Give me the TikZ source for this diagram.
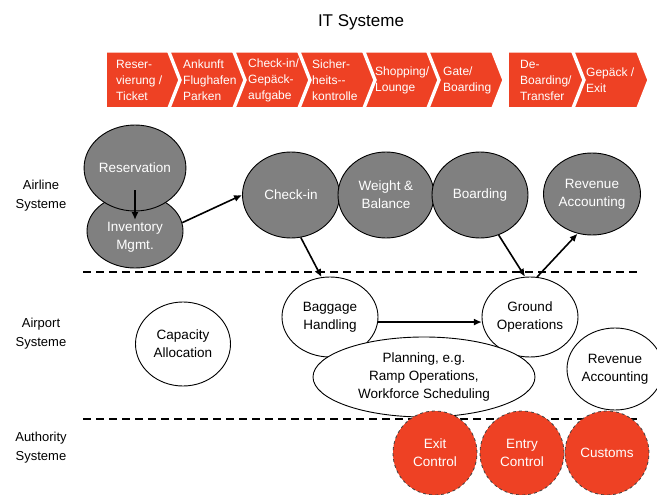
\documentclass[tikz,border=0pt]{standalone}
\usepackage{fontspec}
\setmainfont{Liberation Sans}
\usetikzlibrary{shapes.geometric,arrows.meta,calc}
\definecolor{chevred}{HTML}{EE4124}
\definecolor{ellgray}{HTML}{808080}
\begin{document}
\begin{tikzpicture}[x=1pt,y=-1pt,
  chev/.style={fill=chevred, draw=white, line width=1.5pt, line join=miter},
  chevtext/.style={anchor=west, align=left, text=white, font=\fontsize{12}{16}\selectfont, inner sep=0pt},
  sysnode/.style={ellipse, draw=black, line width=0.9pt, inner sep=0pt, align=center, font=\fontsize{13.5}{18}\selectfont},
  grayell/.style={sysnode, fill=ellgray, text=white},
  whiteell/.style={sysnode, fill=white},
  authcirc/.style={circle, fill=chevred, draw=black!75, dashed, line width=0.8pt, minimum size=84pt, inner sep=0pt, align=center, text=white, font=\fontsize{13.5}{18}\selectfont},
  flow/.style={-{Latex[length=8pt,width=7pt]}, line width=1.6pt},
  sepline/.style={dash pattern=on 8pt off 5pt, line width=1.8pt},
  rowlabel/.style={align=center, font=\fontsize{13}{19}\selectfont}
]
\useasboundingbox (0,0) rectangle (657,495);
\clip (0,0) rectangle (657,495);

% title
\node[font=\fontsize{17}{20}\selectfont] (title) at (361,22) {IT Systeme};

% chevrons
\path[chev] (106,52) -- (168,52) -- (179,80) -- (168,108) -- (106,108) -- cycle;
\path[chev] (170,52) -- (233,52) -- (244,80) -- (233,108) -- (170,108) -- (181,80) -- cycle;
\path[chev] (235,52) -- (298,52) -- (309,80) -- (298,108) -- (235,108) -- (246,80) -- cycle;
\path[chev] (300,52) -- (363,52) -- (374,80) -- (363,108) -- (300,108) -- (311,80) -- cycle;
\path[chev] (365,52) -- (427,52) -- (438,80) -- (427,108) -- (365,108) -- (376,80) -- cycle;
\path[chev] (429,52) -- (492,52) -- (503,80) -- (492,108) -- (429,108) -- (440,80) -- cycle;
\path[chev] (508,52) -- (572,52) -- (583,80) -- (572,108) -- (508,108) -- cycle;
\path[chev] (574,52) -- (637,52) -- (648,80) -- (637,108) -- (574,108) -- (585,80) -- cycle;

\node[chevtext] (c1) at (116,80) {Reser-\\vierung /\\Ticket};
\node[chevtext] (c2) at (183,80) {Ankunft\\Flughafen\\Parken};
\node[chevtext] (c3) at (248,80) {Check-in/\\Gepäck-\\aufgabe};
\node[chevtext] (c4) at (312,80) {Sicher-\\heits-{}-\\kontrolle};
\node[chevtext] (c5) at (375,80) {Shopping/\\Lounge};
\node[chevtext] (c6) at (443,80) {Gate/\\Boarding};
\node[chevtext] (c7) at (520,80) {De-\\Boarding/\\Transfer};
\node[chevtext] (c8) at (586,80) {Gepäck /\\Exit};

% row labels
\node[rowlabel] (lairline) at (41,196) {Airline\\Systeme};
\node[rowlabel] (lairport) at (41,334) {Airport\\Systeme};
\node[rowlabel] (lauth) at (41,448) {Authority\\Systeme};

% separators
\coordinate (s1a) at (83,272);
\coordinate (s1b) at (640,272);
\coordinate (s2a) at (83,419);
\coordinate (s2b) at (640,419);
\draw[sepline] (s1a) -- (s1b);
\draw[sepline] (s2a) -- (s2b);

% airline systems
\node[grayell, minimum width=96pt, minimum height=74pt] (inv) at (135,231) {};
\node[grayell, minimum width=96pt, minimum height=86pt] (res) at (135,168) {Reservation};
\node[align=center, text=white, inner sep=0pt, font=\fontsize{13.5}{18}\selectfont] (invtext) at (135,237) {Inventory\\Mgmt.};
\node[grayell, minimum width=97pt, minimum height=86pt] (checkin) at (291,195) {Check-in};
\node[grayell, minimum width=96pt, minimum height=86pt] (wb) at (386,195) {Weight \&\\Balance};
\node[grayell, minimum width=96pt, minimum height=86pt] (board) at (480,195) {Boarding};
\node[grayell, minimum width=97pt, minimum height=82pt] (revA) at (592,194) {Revenue\\Accounting};

% airport systems
\node[whiteell, minimum width=95pt, minimum height=84pt] (cap) at (183,344) {Capacity\\Allocation};
\node[whiteell, minimum width=96pt, minimum height=80pt] (bag) at (330,317) {Baggage\\Handling};
\node[whiteell, minimum width=96pt, minimum height=80pt] (ground) at (530,317) {Ground\\Operations};
\node[whiteell, minimum width=222pt, minimum height=80pt] (plan) at (424,377) {Planning, e.g.\\Ramp Operations,\\Workforce Scheduling};
\node[whiteell, minimum width=96pt, minimum height=82pt] (revB) at (615,369) {Revenue\\Accounting};

% authority systems
\node[authcirc] (exit) at (435,453) {Exit\\Control};
\node[authcirc] (entry) at (522,453) {Entry\\Control};
\node[authcirc] (customs) at (607,453) {Customs};

% connectors
\draw[flow] ($(res.center)+(0,22)$) -- ($(inv.center)+(0,-11)$);
\draw[flow] (inv.10) -- (checkin.west);
\draw[flow] (checkin.-77) -- (bag.102);
\draw[flow] (board.-65) -- (ground.97);
\draw[flow] (ground.80) -- (revA.-110);
\draw[flow] (bag.-6) -- (ground.186);
\end{tikzpicture}
\end{document}
